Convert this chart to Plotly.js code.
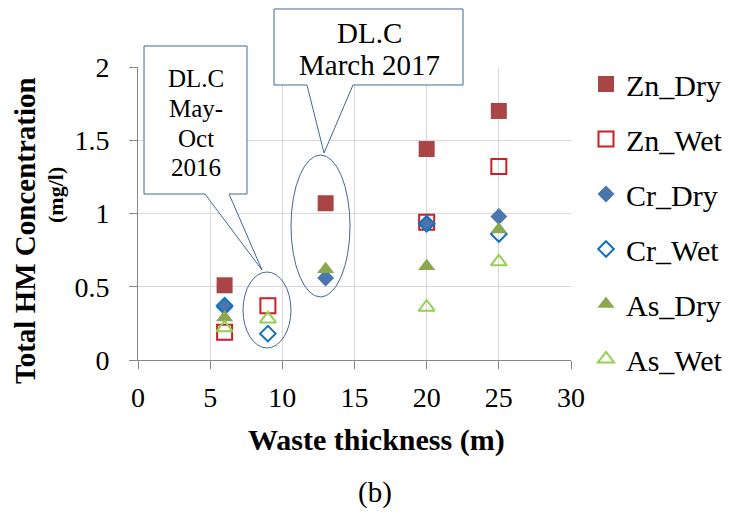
<!DOCTYPE html>
<html>
<head>
<meta charset="utf-8">
<script src="https://cdn.plot.ly/plotly-3.0.1.min.js"></script>
<style>html,body{margin:0;padding:0;background:#fff;}#chart{width:729px;height:513px;}</style>
</head>
<body>
<div id="chart"></div>
<script>
// ---- data ----
const znDryX = [6, 13, 20, 25];
const znDryY = [0.51, 1.07, 1.44, 1.70];
const znWetX = [6, 9, 20, 25];
const znWetY = [0.19, 0.37, 0.94, 1.32];
const crDryX = [6, 13, 20, 25];
const crDryY = [0.36, 0.56, 0.93, 0.98];
const crWetX = [6, 9, 20, 25];
const crWetY = [0.37, 0.18, 0.93, 0.86];
const asDryX = [6, 13, 20, 25];
const asDryY = [0.29, 0.62, 0.64, 0.89];
const asWetX = [6, 9, 20, 25];
const asWetY = [0.22, 0.28, 0.36, 0.67];
const seriesNames = ["Zn_Dry", "Zn_Wet", "Cr_Dry", "Cr_Wet", "As_Dry", "As_Wet"];
const xTitle = "Waste thickness (m)";
const yTitle1 = "Total HM Concentration";
const yTitle2 = "(mg/l)";
const panelLabel = "(b)";
const callout1Lines = ["DL.C", "May-", "Oct", "2016"];
const callout2Lines = ["DL.C", "March 2017"];

// ---- layout helpers (pixel -> paper) ----
const W = 729, H = 513;
const M = {l: 138, r: 158, t: 67, b: 153, autoexpand: false};
const PW = W - M.l - M.r, PH = H - M.t - M.b;
const px = x => (x - M.l) / PW;
const py = y => (H - M.b - y) / PH;
const pathFrom = pts => pts.map((p, i) => (i ? "L" : "M") + px(p[0]).toFixed(4) + "," + py(p[1]).toFixed(4)).join(" ") + " Z";

const serif = "Liberation Serif";
const calloutColor = "#41679c";

function mk(name, xs, ys, symbol, fill, line, size) {
  return {
    type: "scatter", mode: "markers", name: name, x: xs, y: ys,
    legendgroup: name,
    marker: {symbol: symbol, size: size, color: fill, line: {color: line, width: symbol.endsWith("open") ? 2 : 0}},
    hoverinfo: "x+y+name"
  };
}

const traces = [
  mk(seriesNames[0], znDryX, znDryY, "square", "#A94546", "#A94546", 16),
  mk(seriesNames[1], znWetX, znWetY, "square-open", "#cc1f24", "#cc1f24", 15),
  mk(seriesNames[2], crDryX, crDryY, "diamond", "#4A76AE", "#4A76AE", 13),
  mk(seriesNames[3], crWetX, crWetY, "diamond-open", "#0e72c4", "#0e72c4", 12),
  mk(seriesNames[4], asDryX, asDryY, "triangle-up", "#8BA850", "#8BA850", 15),
  mk(seriesNames[5], asWetX, asWetY, "triangle-up-open", "#92d050", "#92d050", 14)
];

const shapes = [
  {type: "path", xref: "paper", yref: "paper", layer: "above",
   path: pathFrom([[144,46],[247,46],[247,194],[229,194],[262,270],[205,194],[144,194]]),
   fillcolor: "#ffffff", line: {color: calloutColor, width: 1}},
  {type: "path", xref: "paper", yref: "paper", layer: "above",
   path: pathFrom([[274,9],[463,9],[463,85],[353,85],[324,153],[307,85],[274,85]]),
   fillcolor: "#ffffff", line: {color: calloutColor, width: 1}},
  {type: "circle", xref: "paper", yref: "paper", layer: "above",
   x0: px(243), x1: px(291), y0: py(348), y1: py(272), line: {color: calloutColor, width: 1}},
  {type: "circle", xref: "paper", yref: "paper", layer: "above",
   x0: px(291), x1: px(350), y0: py(297), y1: py(155), line: {color: calloutColor, width: 1}}
];

const ann = (text, x, y, size, opts) => Object.assign({
  text: text, xref: "paper", yref: "paper", x: px(x), y: py(y),
  xanchor: "center", yanchor: "middle", showarrow: false,
  font: {family: serif, size: size, color: "#000"}
}, opts || {});

const c1y = [78, 108, 138, 167];
const c2y = [33, 65];
const annotations = [
  ...callout1Lines.map((t, i) => ann(t, 196, c1y[i], 25)),
  ...callout2Lines.map((t, i) => ann(t, 369, c2y[i], 29)),
  ann("<b>" + xTitle + "</b>", 376, 440, 30),
  ann(panelLabel, 375, 493, 29),
  ann("<b>" + yTitle1 + "</b>", 25, 231, 29, {textangle: -90}),
  ann("<b>" + yTitle2 + "</b>", 55, 195, 22, {textangle: -90})
];

const axisCommon = {
  showgrid: true, gridcolor: "#d9d9d9", gridwidth: 1,
  showline: true, linecolor: "#868686", linewidth: 1,
  ticks: "outside", ticklen: 8, tickcolor: "#868686",
  tickfont: {family: serif, size: 28, color: "#000"},
  zeroline: false, fixedrange: true, automargin: false
};

const layout = {
  width: W, height: H,
  margin: M,
  paper_bgcolor: "#ffffff", plot_bgcolor: "#ffffff",
  font: {family: serif, color: "#000"},
  xaxis: Object.assign({}, axisCommon, {range: [0, 30], dtick: 5, tick0: 0, ticklabelstandoff: 4}),
  yaxis: Object.assign({}, axisCommon, {range: [0, 2], dtick: 0.5, tick0: 0, ticklabelstandoff: 14}),
  showlegend: true,
  legend: {x: px(586), xanchor: "left", y: py(58), yanchor: "top",
           font: {family: serif, size: 30, color: "#000"}, tracegroupgap: 13,
           maxheight: 480,
           bgcolor: "rgba(0,0,0,0)", borderwidth: 0},
  shapes: shapes,
  annotations: annotations
};

Plotly.newPlot("chart", traces, layout, {displayModeBar: false, staticPlot: true});
</script>
</body>
</html>
